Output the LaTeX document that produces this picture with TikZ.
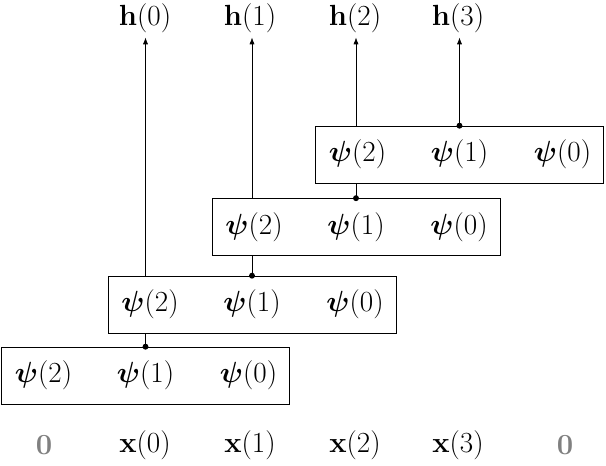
\documentclass[tikz,border=0pt]{standalone}
\usepackage{amsmath}
\usetikzlibrary{arrows.meta, positioning}
\tikzset{
  blk/.style={draw, minimum width=7.2cm, minimum height=1.425cm, inner sep=0pt},
  lbl/.style={font=\fontsize{21}{24}\selectfont},
  dot/.style={circle, fill, inner sep=1.5pt},
}
\begin{document}
\begin{tikzpicture}[x=0.025cm, y=-0.025cm]
    \useasboundingbox (0,0) rectangle (606,466);

    % Filter blocks
    \foreach \i/\x/\y in {1/145.5/375.5, 2/252/304.5, 3/356/227, 4/459.5/154.5} {
        \node[blk] (b\i) at (\x,\y) {};
        \node[lbl] (p\i a) at (\x-102,\y) {$\boldsymbol{\psi}(2)$};
        \node[lbl] (p\i b) at (\x,\y) {$\boldsymbol{\psi}(1)$};
        \node[lbl] (p\i c) at (\x+103,\y) {$\boldsymbol{\psi}(0)$};
    }

    % Inputs and outputs
    \node[lbl, gray] (x0) at (44,445) {$\mathbf{0}$};
    \node[lbl] (x1) at (145,445) {$\mathbf{x}(0)$};
    \node[lbl] (x2) at (250,445) {$\mathbf{x}(1)$};
    \node[lbl] (x3) at (355,445) {$\mathbf{x}(2)$};
    \node[lbl] (x4) at (458,445) {$\mathbf{x}(3)$};
    \node[lbl, gray] (x5) at (565,445) {$\mathbf{0}$};
    \node[lbl] (h0) at (145,18) {$\mathbf{h}(0)$};
    \node[lbl] (h1) at (250,18) {$\mathbf{h}(1)$};
    \node[lbl] (h2) at (355,18) {$\mathbf{h}(2)$};
    \node[lbl] (h3) at (458,18) {$\mathbf{h}(3)$};

    % Taps
    \node[dot] (d1) at (b1.north -| p1b) {};
    \node[dot] (d2) at (b2.north -| p2b) {};
    \node[dot] (d3) at (b3.north -| p3b) {};
    \node[dot] (d4) at (b4.north -| p4b) {};
    \draw (d1.center) -- (b2.south -| d1);
    \draw (d2.center) -- (b3.south -| d2);
    \draw (d3.center) -- (b4.south -| d3);
    \draw[-Latex] (b2.north -| d1) -- (h0.south -| d1);
    \draw[-Latex] (b3.north -| d2) -- (h1.south -| d2);
    \draw[-Latex] (b4.north -| d3) -- (h2.south -| d3);
    \draw[-Latex] (d4.center) -- (h3.south -| d4);
\end{tikzpicture}
\end{document}
